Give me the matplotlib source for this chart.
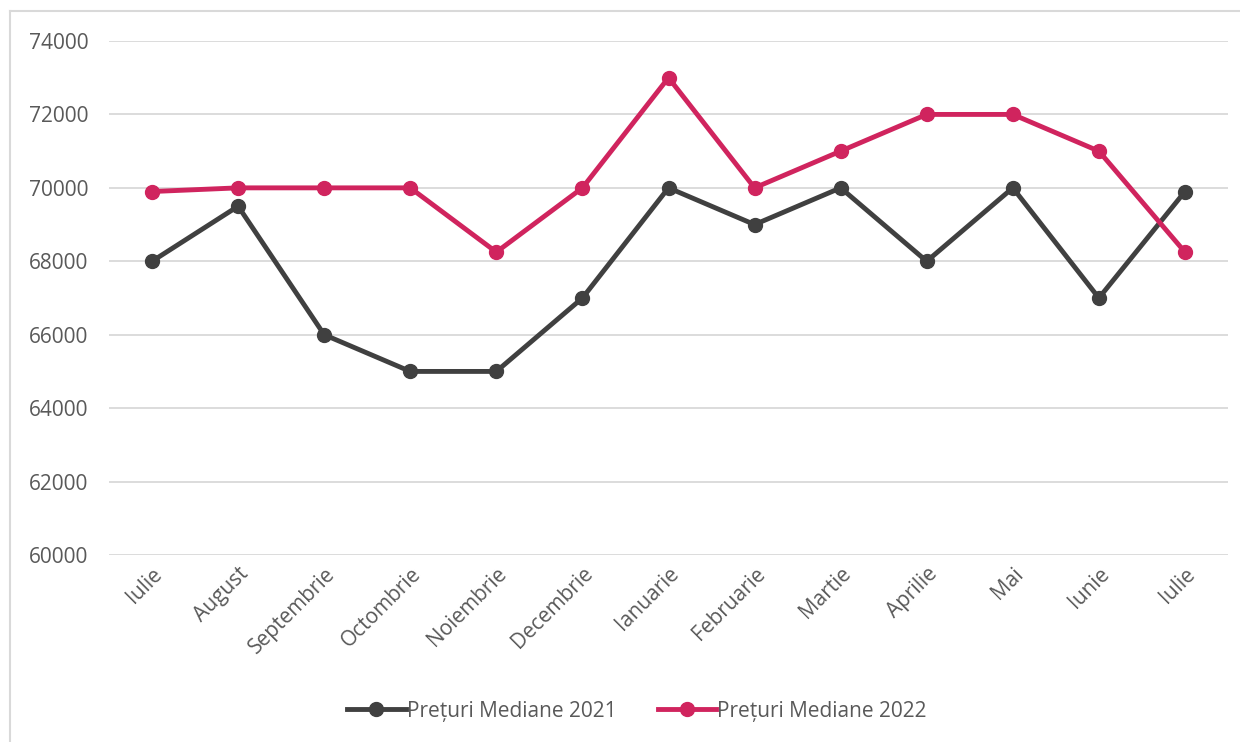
import matplotlib.pyplot as plt
from matplotlib.lines import Line2D

# Donnees
luni = ["Iulie", "August", "Septembrie", "Octombrie", "Noiembrie", "Decembrie",
        "Ianuarie", "Februarie", "Martie", "Aprilie", "Mai", "Iunie", "Iulie"]
preturi_2021 = [68000, 69500, 66000, 65000, 65000, 67000, 70000, 69000, 70000,
                68000, 70000, 67000, 69900]
preturi_2022 = [69900, 70000, 70000, 70000, 68250, 70000, 73000, 70000, 71000,
                72000, 72000, 71000, 68250]
yticks = [60000, 62000, 64000, 66000, 68000, 70000, 72000, 74000]

plt.rcParams['font.family'] = ['Open Sans', 'DejaVu Sans']
gri_text = '#595959'
negru = '#404040'
roz = '#D0245E'

fig = plt.figure(figsize=(12.4, 7.42), dpi=100)
ax = fig.add_axes([109/1240, 187/742, (1228-109)/1240, (555-41)/742])

x = list(range(len(luni)))
ax.plot(x, preturi_2021, color=negru, lw=3.5, marker='o', ms=10, zorder=3,
        solid_capstyle='round')
ax.plot(x, preturi_2022, color=roz, lw=3.5, marker='o', ms=10, zorder=4,
        solid_capstyle='round')

ax.set_xlim(-0.5, len(luni) - 0.5)
ax.set_ylim(60000, 74000)
ax.set_yticks(yticks)
ax.set_yticklabels([str(v) for v in yticks], fontsize=15, color=gri_text)
ax.set_xticks(x)
ax.set_xticklabels(luni, rotation=45, ha='right', rotation_mode='anchor',
                   fontsize=15, color=gri_text)
ax.tick_params(axis='both', length=0)
ax.tick_params(axis='y', pad=15)
ax.tick_params(axis='x', pad=6)
ax.grid(axis='y', color='#d9d9d9', lw=1.3)
ax.set_axisbelow(True)
for s in ax.spines.values():
    s.set_visible(False)

# legende
h1 = Line2D([], [], color=negru, lw=3.5, marker='o', ms=10)
h2 = Line2D([], [], color=roz, lw=3.5, marker='o', ms=10)
leg = fig.legend([h1, h2], ["Prețuri Mediane 2021", "Prețuri Mediane 2022"],
                 loc='center', bbox_to_anchor=(637/1240, 1 - 711/742), ncol=2,
                 frameon=False, fontsize=15, handlelength=2.8, handletextpad=0.05,
                 columnspacing=2.0)
for t in leg.get_texts():
    t.set_color(gri_text)

# cadre gris (haut et gauche)
fig.add_artist(Line2D([10/1240, 1], [1 - 11/742, 1 - 11/742], color='#d9d9d9', lw=1.5,
                      transform=fig.transFigure))
fig.add_artist(Line2D([10/1240, 10/1240], [0, 1 - 11/742], color='#d9d9d9', lw=1.5,
                      transform=fig.transFigure))

fig.savefig('out.png', dpi=100)
